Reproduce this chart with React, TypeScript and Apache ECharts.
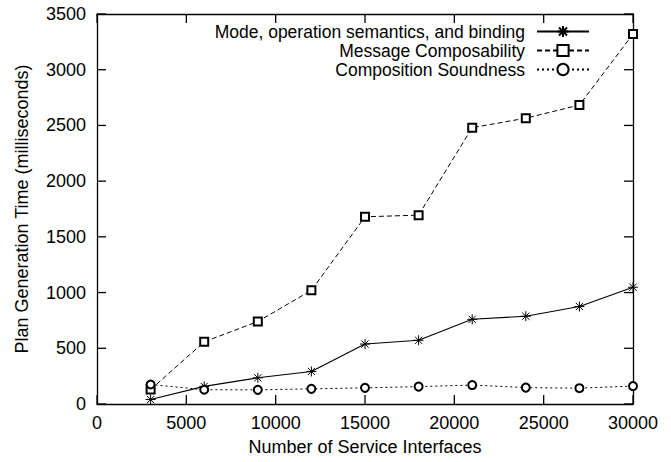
import React, { useEffect, useRef } from "react";
import * as echarts from "echarts";

const xValues = [3000, 6000, 9000, 12000, 15000, 18000, 21000, 24000, 27000, 30000];
const modeBinding = [40, 158, 235, 292, 538, 572, 760, 788, 875, 1048];
const messageComposability = [130, 558, 740, 1020, 1680, 1695, 2480, 2565, 2683, 3320];
const compositionSoundness = [175, 128, 127, 136, 145, 156, 170, 147, 142, 161];
const seriesNames = [
  "Mode, operation semantics, and binding",
  "Message Composability",
  "Composition Soundness",
];
const xTicks = [0, 5000, 10000, 15000, 20000, 25000, 30000];
const yTicks = [0, 500, 1000, 1500, 2000, 2500, 3000, 3500];
const X_MIN = 0;
const X_MAX = 30000;
const Y_MIN = 0;
const Y_MAX = 3500;

const STAR = "path://M0,-5L0,5M-5,0L5,0M-3.6,-3.6L3.6,3.6M-3.6,3.6L3.6,-3.6";
const FONT = "Liberation Sans";
const TICK = 9;

export default function App() {
  const ref = useRef<HTMLDivElement>(null);
  useEffect(() => {
    const chart = echarts.init(ref.current!, null, { renderer: "svg" });
    const pair = (ys: number[]) => xValues.map((x, i) => [x, ys[i]]);
    const line = { show: true, onZero: false, lineStyle: { color: "#000", width: 1.3 } };
    const fmt = (v: number) => String(v);
    const tickStyle = { stroke: "#000", lineWidth: 1.3 };
    chart.setOption({
      animation: false,
      backgroundColor: "#fff",
      textStyle: { fontFamily: FONT },
      grid: { left: 97, right: 38, top: 14, bottom: 58, containLabel: false },
      legend: {
        orient: "vertical",
        align: "right",
        right: 76,
        top: 17,
        itemWidth: 52,
        itemHeight: 14,
        itemGap: 0,
        textStyle: { fontFamily: FONT, fontSize: 17.5, lineHeight: 19, color: "#000", padding: [0, 7, 0, 0] },
        data: seriesNames,
      },
      xAxis: [
        {
          type: "value",
          min: X_MIN,
          max: X_MAX,
          interval: 5000,
          name: "Number of Service Interfaces",
          nameLocation: "middle",
          nameGap: 34,
          nameTextStyle: { fontFamily: FONT, fontSize: 18, color: "#000" },
          axisLabel: { fontFamily: FONT, fontSize: 18, color: "#000", margin: 10, formatter: fmt },
          axisLine: line,
          axisTick: { show: false },
          splitLine: { show: false },
        },
        {
          type: "value",
          position: "top",
          min: X_MIN,
          max: X_MAX,
          interval: 5000,
          axisLabel: { show: false },
          axisLine: line,
          axisTick: { show: false },
          splitLine: { show: false },
        },
      ],
      yAxis: [
        {
          type: "value",
          min: Y_MIN,
          max: Y_MAX,
          interval: 500,
          name: "Plan Generation Time (milliseconds)",
          nameLocation: "middle",
          nameGap: 66,
          nameTextStyle: { fontFamily: FONT, fontSize: 18, color: "#000" },
          axisLabel: { fontFamily: FONT, fontSize: 18, color: "#000", margin: 11, formatter: fmt },
          axisLine: line,
          axisTick: { show: false },
          splitLine: { show: false },
        },
        {
          type: "value",
          position: "right",
          min: Y_MIN,
          max: Y_MAX,
          interval: 500,
          axisLabel: { show: false },
          axisLine: line,
          axisTick: { show: false },
          splitLine: { show: false },
        },
      ],
      series: [
        {
          type: "custom",
          name: "xticks",
          silent: true,
          clip: false,
          data: xTicks.map((v) => [v]),
          encode: { x: 0 },
          renderItem: (_p: any, api: any) => {
            const v = api.value(0);
            const b = api.coord([v, Y_MIN]);
            const t = api.coord([v, Y_MAX]);
            return {
              type: "group",
              children: [
                { type: "line", shape: { x1: b[0], y1: b[1], x2: b[0], y2: b[1] - TICK }, style: tickStyle },
                { type: "line", shape: { x1: t[0], y1: t[1], x2: t[0], y2: t[1] + TICK }, style: tickStyle },
              ],
            };
          },
        },
        {
          type: "custom",
          name: "yticks",
          silent: true,
          clip: false,
          data: yTicks.map((v) => [X_MIN, v]),
          encode: { x: 0, y: 1 },
          renderItem: (_p: any, api: any) => {
            const v = api.value(1);
            const l = api.coord([X_MIN, v]);
            const r = api.coord([X_MAX, v]);
            return {
              type: "group",
              children: [
                { type: "line", shape: { x1: l[0], y1: l[1], x2: l[0] + TICK, y2: l[1] }, style: tickStyle },
                { type: "line", shape: { x1: r[0], y1: r[1], x2: r[0] - TICK, y2: r[1] }, style: tickStyle },
              ],
            };
          },
        },
        {
          name: seriesNames[0],
          type: "line",
          data: pair(modeBinding),
          symbol: STAR,
          symbolSize: 10,
          itemStyle: { color: "#000", borderColor: "#000", borderWidth: 1 },
          lineStyle: { color: "#000", width: 1.1, type: "solid" },
        },
        {
          name: seriesNames[1],
          type: "line",
          data: pair(messageComposability),
          symbol: "emptyRect",
          symbolSize: 8,
          itemStyle: { color: "#000", borderColor: "#000", borderWidth: 1 },
          lineStyle: { color: "#000", width: 1, type: [5, 3] },
        },
        {
          name: seriesNames[2],
          type: "line",
          data: pair(compositionSoundness),
          symbol: "emptyCircle",
          symbolSize: 8,
          itemStyle: { color: "#000", borderColor: "#000", borderWidth: 1 },
          lineStyle: { color: "#000", width: 1, type: [2, 3] },
        },
      ],
    });
    return () => chart.dispose();
  }, []);
  return <div ref={ref} style={{ width: 671, height: 462, position: "absolute", left: 0, top: 0 }} />;
}
